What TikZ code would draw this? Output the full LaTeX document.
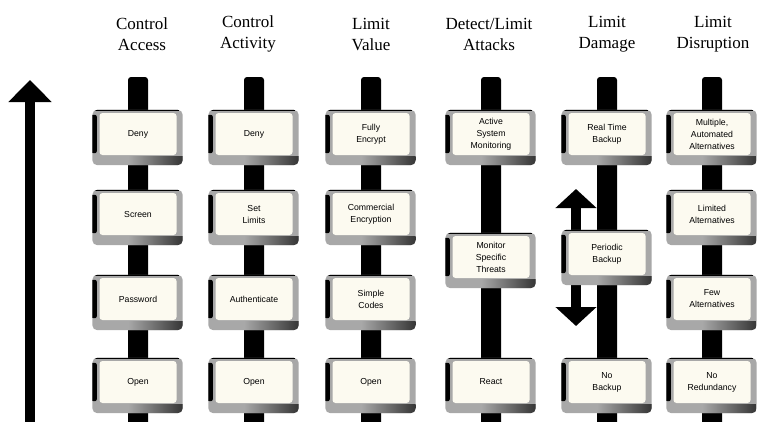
\documentclass[tikz,border=0pt]{standalone}
\usepackage{fontspec}
\setmainfont{Liberation Serif}
\newfontfamily\panelfont{Liberation Sans}
\usetikzlibrary{arrows.meta,calc}
\pgfdeclarelayer{bars}
\pgfdeclarelayer{frames}
\pgfsetlayers{bars,frames,main}
\definecolor{cream}{HTML}{FCFAF0}
\definecolor{frameGray}{HTML}{A8A8A8}

\begin{document}
\begin{tikzpicture}[x=1pt,y=-1pt,
  header/.style={align=center,font=\fontsize{17}{21}\selectfont},
  panel/.style={rectangle, rounded corners=3pt, fill=cream, minimum width=77pt,
    minimum height=42pt, inner sep=1pt, align=center,
    font=\panelfont\fontsize{8.7}{12}\selectfont},
  bar/.style={fill=black, rounded corners=3pt},
  bigarrow/.style={line width=10pt, -{Triangle[width=42pt,length=22pt]}},
  smallarrow/.style={line width=10pt, -{Triangle[width=40pt,length=19pt]}},
]
\useasboundingbox (0,0) rectangle (758,421);

% column headings
\node[header] (h1) at (142,34) {Control\\Access};
\node[header] (h2) at (248,34) {Control\\Activity};
\node[header] (h3) at (371,34) {Limit\\Value};
\node[header] (h4) at (489,34) {Detect/Limit\\Attacks};
\node[header] (h5) at (607,34) {Limit\\Damage};
\node[header] (h6) at (713,34) {Limit\\Disruption};

% Control Access
\node[panel] (a1) at (138,134) {Deny};
\node[panel] (a2) at (138,214) {Screen};
\node[panel] (a3) at (138,299) {Password};
\node[panel] (a4) at (138,382) {Open};
% Control Activity
\node[panel] (b1) at (254,134) {Deny};
\node[panel] (b2) at (254,214) {Set\\Limits};
\node[panel] (b3) at (254,299) {Authenticate};
\node[panel] (b4) at (254,382) {Open};
% Limit Value
\node[panel] (c1) at (371,134) {Fully\\Encrypt};
\node[panel] (c2) at (371,214) {Commercial\\Encryption};
\node[panel] (c3) at (371,299) {Simple\\Codes};
\node[panel] (c4) at (371,382) {Open};
% Detect/Limit Attacks
\node[panel] (d1) at (491,134) {Active\\System\\Monitoring};
\node[panel] (d2) at (491,257) {Monitor\\Specific\\Threats};
\node[panel] (d3) at (491,382) {React};
% Limit Damage
\node[panel] (e1) at (607,134) {Real Time\\Backup};
\node[panel] (e2) at (607,254) {Periodic\\Backup};
\node[panel] (e3) at (607,382) {No\\Backup};
% Limit Disruption
\node[panel] (f1) at (712,134) {Multiple,\\Automated\\Alternatives};
\node[panel] (f2) at (712,214) {Limited\\Alternatives};
\node[panel] (f3) at (712,299) {Few\\Alternatives};
\node[panel] (f4) at (712,382) {No\\Redundancy};

% vertical bars behind each column
\foreach \x [count=\i] in {138,254,371,491,607,712} {
  \coordinate (top\i) at (\x,77);
  \coordinate (foot\i) at (\x,428);
}
\coordinate (axistip) at (30,80);
\coordinate (axisfoot) at (30,430);
\coordinate (uptip) at (576,189);
\coordinate (downtip) at (576,326);

\begin{pgfonlayer}{bars}
  \foreach \i in {1,...,6}
    \fill[bar] ($(top\i)+(-10pt,0)$) rectangle ($(foot\i)+(10pt,0)$);
  \draw[bigarrow] (axisfoot) -- (axistip);
  \draw[smallarrow] (uptip |- e2) -- (uptip);
  \draw[smallarrow] (downtip |- e2) -- (downtip);
\end{pgfonlayer}

% bevelled frames around the panels
\begin{pgfonlayer}{frames}
  \foreach \n in {a1,a2,a3,a4,b1,b2,b3,b4,c1,c2,c3,c4,d1,d2,d3,e1,e2,e3,f1,f2,f3,f4} {
    \begin{scope}
      \path[clip, rounded corners=5pt] ($(\n.north west)+(-7pt,3pt)$) rectangle ($(\n.south east)+(6pt,-10pt)$);
      \fill[frameGray] ($(\n.north west)+(-8pt,4pt)$) rectangle ($(\n.south east)+(7pt,-11pt)$);
      \shade[left color=frameGray, right color=black!80] ($(\n.south)+(-10pt,-1pt)$) rectangle ($(\n.south east)+(7pt,-11pt)$);
      \fill[black] ($(\n.north west)+(-8pt,4pt)$) rectangle ($(\n.north east)+(2pt,1.5pt)$);
      \fill[black, rounded corners=2pt] ($(\n.north west)+(-8pt,-2pt)$) rectangle ($(\n.south west)+(-2.5pt,2pt)$);
    \end{scope}
  }
\end{pgfonlayer}
\end{tikzpicture}
\end{document}
